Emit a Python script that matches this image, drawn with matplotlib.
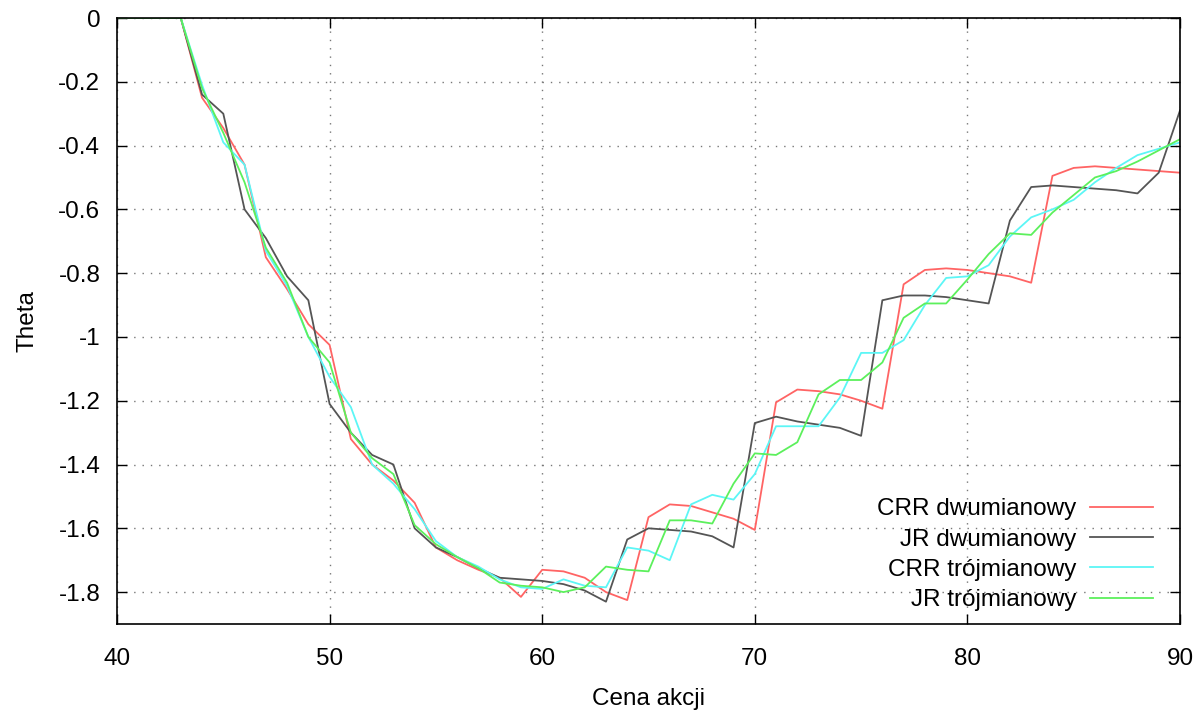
import matplotlib
matplotlib.use("Agg")
import matplotlib.pyplot as plt
import numpy as np

plt.rcParams['font.family'] = ['Liberation Sans', 'DejaVu Sans']

# cena akcji (strike grid)
cena = np.arange(40, 91)

crr_dwu = [0, 0, 0, 0, -0.25, -0.345, -0.46, -0.75, -0.85, -0.96,
           -1.025, -1.32, -1.40, -1.45, -1.52, -1.66, -1.70, -1.73, -1.755, -1.815,
           -1.73, -1.735, -1.755, -1.80, -1.825, -1.565, -1.525, -1.53, -1.55, -1.57,
           -1.605, -1.205, -1.165, -1.17, -1.18, -1.20, -1.225, -0.835, -0.79, -0.785,
           -0.79, -0.80, -0.81, -0.83, -0.495, -0.47, -0.465, -0.47, -0.475, -0.48,
           -0.485]
jr_dwu = [0, 0, 0, 0, -0.24, -0.30, -0.60, -0.69, -0.81, -0.885,
          -1.21, -1.30, -1.37, -1.40, -1.60, -1.66, -1.69, -1.725, -1.755, -1.76,
          -1.765, -1.775, -1.795, -1.83, -1.635, -1.60, -1.605, -1.61, -1.625, -1.66,
          -1.27, -1.25, -1.265, -1.275, -1.285, -1.31, -0.885, -0.87, -0.87, -0.875,
          -0.885, -0.895, -0.635, -0.53, -0.525, -0.53, -0.535, -0.54, -0.55, -0.485,
          -0.29]
crr_troj = [0, 0, 0, 0, -0.21, -0.39, -0.46, -0.73, -0.84, -1.00,
            -1.125, -1.22, -1.40, -1.46, -1.54, -1.64, -1.69, -1.72, -1.76, -1.785,
            -1.79, -1.76, -1.78, -1.785, -1.66, -1.67, -1.70, -1.525, -1.495, -1.51,
            -1.43, -1.28, -1.28, -1.28, -1.19, -1.05, -1.05, -1.01, -0.90, -0.815,
            -0.81, -0.775, -0.685, -0.625, -0.60, -0.57, -0.515, -0.47, -0.43, -0.41,
            -0.39]
jr_troj = [0, 0, 0, 0, -0.22, -0.36, -0.515, -0.72, -0.83, -1.00,
           -1.08, -1.30, -1.38, -1.43, -1.59, -1.65, -1.69, -1.725, -1.77, -1.78,
           -1.785, -1.80, -1.785, -1.72, -1.73, -1.735, -1.575, -1.575, -1.585, -1.46,
           -1.365, -1.37, -1.33, -1.18, -1.135, -1.135, -1.08, -0.94, -0.895, -0.895,
           -0.82, -0.74, -0.675, -0.68, -0.61, -0.555, -0.50, -0.48, -0.45, -0.415,
           -0.38]

fig = plt.figure(figsize=(11.98, 7.10), dpi=100)
ax = fig.add_axes([117/1198, 1 - 624/710, (1180 - 117)/1198, (624 - 18)/710])

ax.plot(cena, crr_dwu, color='#ff6464', lw=1.3, label='CRR dwumianowy')
ax.plot(cena, jr_dwu, color='#555555', lw=1.3, label='JR dwumianowy')
ax.plot(cena, crr_troj, color='#5cf6f6', lw=1.3, label='CRR trójmianowy')
ax.plot(cena, jr_troj, color='#5cf05c', lw=1.3, label='JR trójmianowy')

ax.set_xlim(40, 90)
ax.set_ylim(-1.9, 0)
ax.set_xticks(np.arange(40, 91, 10))
ax.set_yticks(np.arange(-1.8, 0.01, 0.2))
ax.set_yticklabels(['-1.8', '-1.6', '-1.4', '-1.2', '-1', '-0.8', '-0.6', '-0.4', '-0.2', '0'])
ax.grid(True, color='#777777', linestyle=(0, (1, 5)), linewidth=1.0)
ax.tick_params(direction='in', length=7, width=1, labelsize=17.5, top=True, right=True)
ax.tick_params(axis='x', pad=17)
ax.tick_params(axis='y', pad=12)
for s in ax.spines.values():
    s.set_linewidth(1.2)

ax.set_xlabel('Cena akcji', fontsize=17.5, labelpad=13)
ax.set_ylabel('Theta', fontsize=17.5, labelpad=14)

ax.legend(loc='lower right', frameon=False, markerfirst=False, fontsize=17.5,
          handlelength=2.6, handletextpad=0.55, labelspacing=0.34,
          borderaxespad=0, bbox_to_anchor=(1 - 17/1063, 3/606))

fig.savefig('out.png', dpi=100)
